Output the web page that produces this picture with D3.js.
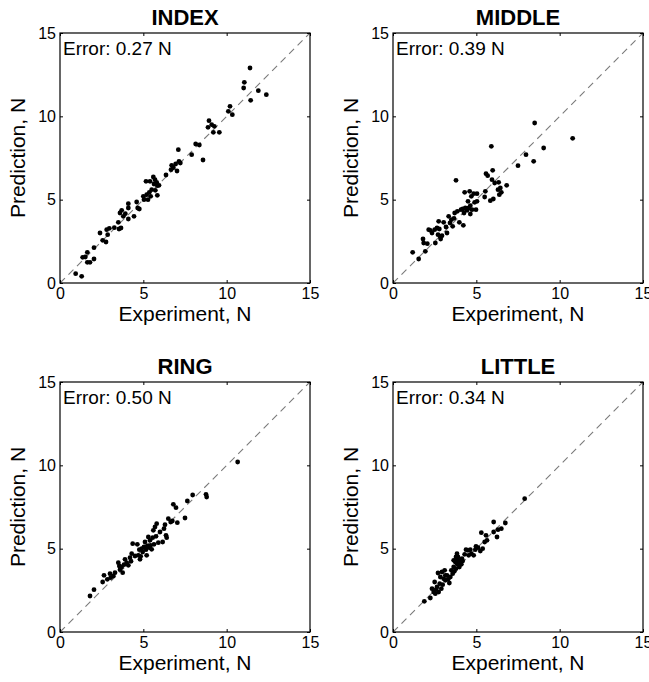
<!DOCTYPE html>
<html>
<head>
<meta charset="utf-8">
<script src="https://cdn.jsdelivr.net/npm/d3@7"></script>
<style>
  body { margin: 0; background: #fff; }
  svg { font-family: "Liberation Sans", Arial, sans-serif; }
</style>
</head>
<body>
<div id="canvas"></div>
<script>
"use strict"

/* data: experiment vs prediction, in N */
let titles = ["INDEX", "MIDDLE", "RING", "LITTLE"];
let errors = ["0.27", "0.39", "0.50", "0.34"];
let tickValues = [0, 5, 10, 15];

let indexExp = [0.94, 1.3, 1.36, 1.52, 1.64, 1.64, 1.8, 2.04, 2.04, 2.4, 2.56, 2.76, 2.8, 2.86, 2.96, 3.26, 3.5, 3.54, 3.66, 3.6,
    3.7, 3.8, 3.92, 4.1, 4.1, 4.1, 4.44, 4.6, 4.66, 4.76, 5.0, 5.04, 5.16, 5.2, 5.28, 5.4, 5.36, 5.44, 5.5, 5.6,
    5.64, 5.7, 5.72, 5.8, 5.84, 5.84, 5.94, 6.36, 6.66, 6.7, 6.8, 6.94, 7.02, 7.1, 7.14, 7.22, 7.9, 8.14, 8.36, 8.58,
    8.88, 8.94, 9.1, 9.2, 9.26, 9.56, 10.1, 10.2, 10.34, 11.02, 11.06, 11.4, 11.44, 11.9, 12.38];
let indexPred = [0.56, 0.4, 1.54, 1.56, 1.84, 1.24, 1.24, 1.44, 2.12, 3.0, 2.56, 2.46, 3.2, 2.9, 3.28, 3.32, 3.64, 3.24, 3.3, 4.2,
    4.36, 4.0, 4.16, 3.84, 4.76, 4.5, 4.0, 4.86, 4.5, 4.44, 5.2, 5.0, 6.1, 5.3, 5.0, 6.1, 5.44, 5.2, 5.6, 6.36,
    5.94, 6.2, 5.56, 6.04, 5.84, 5.26, 5.86, 6.48, 6.8, 7.06, 6.92, 7.14, 6.72, 8.0, 7.3, 7.2, 7.7, 8.34, 8.28, 7.38,
    9.34, 9.74, 9.5, 9.04, 9.4, 9.04, 10.3, 10.6, 10.1, 11.7, 12.04, 12.9, 10.96, 11.54, 11.3];

let middleExp = [1.18, 1.54, 1.8, 1.84, 1.94, 2.06, 2.24, 2.34, 2.5, 2.54, 2.64, 2.7, 2.74, 2.78, 2.84, 2.94, 3.04, 3.18, 3.24, 3.34,
    3.42, 3.5, 3.58, 3.66, 3.7, 3.78, 3.86, 3.98, 4.08, 4.22, 4.26, 4.3, 4.34, 4.44, 4.5, 4.6, 4.64, 4.64, 4.7, 4.74,
    4.84, 4.9, 4.98, 5.04, 5.04, 5.5, 5.54, 5.58, 5.68, 5.84, 5.9, 5.94, 5.98, 6.02, 6.1, 6.3, 6.34, 6.38, 6.44, 6.5,
    6.82, 7.5, 7.98, 8.44, 8.5, 9.04, 10.78, 4.18, 4.54, 2.14, 2.86];
let middlePred = [1.84, 1.44, 2.64, 2.4, 1.9, 2.36, 3.16, 3.0, 3.2, 2.4, 3.3, 2.9, 3.7, 3.24, 2.76, 2.84, 3.64, 3.36, 3.0, 4.0,
    3.6, 3.8, 3.4, 3.88, 4.2, 6.16, 4.3, 3.64, 4.4, 3.46, 4.2, 5.44, 4.5, 4.36, 4.9, 5.5, 4.64, 4.14, 5.2, 4.4,
    5.36, 4.84, 4.4, 4.9, 5.36, 5.16, 5.5, 6.56, 6.44, 4.94, 8.2, 6.2, 6.76, 5.04, 6.0, 5.6, 6.04, 5.3, 5.7, 5.44,
    5.86, 7.04, 7.7, 7.3, 9.6, 8.1, 8.68, 4.44, 4.5, 3.2, 2.64];

let ringExp = [1.8, 2.04, 2.56, 2.64, 2.84, 3.0, 3.04, 3.2, 3.3, 3.5, 3.56, 3.6, 3.76, 3.84, 3.9, 4.0, 4.1, 4.2, 4.26, 4.36,
    4.5, 4.64, 4.7, 4.76, 4.8, 4.84, 4.9, 4.96, 5.04, 5.1, 5.16, 5.24, 5.3, 5.36, 5.4, 5.5, 5.56, 5.6, 5.64, 5.7,
    5.76, 5.8, 5.9, 6.0, 6.16, 6.24, 6.3, 6.36, 6.4, 6.5, 6.64, 6.74, 6.8, 6.96, 7.04, 7.5, 7.64, 7.96, 8.76, 8.8,
    10.66, 5.2, 4.3, 5.44, 3.7];
let ringPred = [2.16, 2.54, 3.0, 3.4, 3.16, 3.5, 3.26, 3.36, 3.56, 4.16, 3.96, 3.74, 3.56, 4.04, 4.36, 4.16, 4.0, 4.46, 4.24, 5.3,
    4.56, 5.26, 4.6, 4.94, 4.36, 4.54, 5.0, 4.8, 5.1, 5.4, 4.94, 5.16, 5.7, 5.06, 5.5, 4.96, 5.66, 6.1, 5.26, 6.3,
    5.74, 6.5, 5.36, 6.0, 5.4, 6.2, 6.44, 5.8, 5.66, 6.8, 6.6, 6.66, 7.66, 7.46, 6.56, 6.84, 7.86, 8.22, 8.26, 8.1,
    10.2, 4.6, 4.7, 5.2, 3.9];

let littleExp = [1.88, 2.24, 2.34, 2.44, 2.5, 2.54, 2.64, 2.7, 2.74, 2.8, 2.84, 2.9, 2.94, 2.98, 3.04, 3.1, 3.14, 3.24, 3.3, 3.38,
    3.44, 3.5, 3.58, 3.64, 3.68, 3.74, 3.78, 3.84, 3.86, 3.9, 3.94, 3.98, 4.04, 4.1, 4.18, 4.3, 4.38, 4.5, 4.54, 4.64,
    4.7, 4.84, 4.94, 4.98, 5.1, 5.24, 5.3, 5.38, 5.5, 5.58, 5.64, 6.04, 6.04, 6.24, 6.3, 6.5, 6.74, 7.9,
    3.78, 3.64, 3.14, 2.58, 4.14, 3.84];
let littlePred = [1.84, 2.04, 2.6, 2.4, 3.0, 2.3, 2.7, 3.54, 2.4, 2.9, 3.3, 2.6, 3.6, 2.84, 3.2, 3.7, 3.1, 3.4, 3.16, 2.94,
    3.3, 3.7, 3.5, 3.9, 3.64, 4.2, 3.8, 4.4, 4.06, 4.5, 4.2, 3.9, 4.3, 4.06, 4.26, 4.66, 4.94, 4.9, 4.6, 4.94,
    4.7, 4.6, 4.94, 5.14, 5.06, 4.86, 5.96, 5.0, 5.4, 5.8, 5.5, 6.0, 6.6, 5.7, 6.14, 6.2, 6.54, 8.0,
    4.5, 4.3, 3.4, 2.54, 4.4, 4.7];

let expSets = [indexExp, middleExp, ringExp, littleExp];
let predSets = [indexPred, middlePred, ringPred, littlePred];

/* layout */
let width = 649, height = 682;
let size = 250;
let lefts = [60, 393, 60, 393];
let tops = [33, 33, 382, 382];

let drawing = d3.select("#canvas")
    .append("svg")
    .attr("width", width)
    .attr("height", height);

let x = d3.scaleLinear().domain([0, 15]).range([0, size]);
let y = d3.scaleLinear().domain([0, 15]).range([size, 0]);

for (let p = 0; p < 4; p++) {
    let g = drawing.append("g")
        .attr("transform", "translate(" + lefts[p] + "," + tops[p] + ")");

    // identity line
    g.append("line")
        .attr("x1", x(0)).attr("y1", y(0))
        .attr("x2", x(15)).attr("y2", y(15))
        .attr("stroke", "#7a7a7a")
        .attr("stroke-width", 1.1)
        .attr("stroke-dasharray", "7,5");

    // points
    g.selectAll("circle")
        .data(expSets[p].map((v, i) => [v, predSets[p][i]]))
        .join("circle")
        .attr("cx", d => x(d[0]))
        .attr("cy", d => y(d[1]))
        .attr("r", 2.4)
        .attr("fill", "black");

    // axes, ticks pointing inward as in matlab
    g.append("g")
        .attr("transform", "translate(0," + size + ")")
        .call(d3.axisBottom(x).tickValues(tickValues).tickSizeInner(-3).tickSizeOuter(0).tickPadding(5));
    g.append("g")
        .call(d3.axisLeft(y).tickValues(tickValues).tickSizeInner(-3).tickSizeOuter(0).tickPadding(4));
    g.append("g")
        .call(d3.axisTop(x).tickValues(tickValues).tickSizeInner(-3).tickSizeOuter(0).tickFormat(""));
    g.append("g")
        .attr("transform", "translate(" + size + ",0)")
        .call(d3.axisRight(y).tickValues(tickValues).tickSizeInner(-3).tickSizeOuter(0).tickFormat(""));

    g.selectAll(".tick text")
        .attr("font-family", "Liberation Sans, Arial, sans-serif")
        .attr("font-size", 16)
        .attr("fill", "black");
    g.selectAll(".domain").attr("stroke", "none");

    // frame
    g.append("rect")
        .attr("width", size)
        .attr("height", size)
        .attr("fill", "none")
        .attr("stroke", "black")
        .attr("stroke-width", 1.2);

    // title
    g.append("text")
        .attr("x", size / 2)
        .attr("y", -8)
        .attr("text-anchor", "middle")
        .attr("font-size", 22)
        .attr("font-weight", "bold")
        .text(titles[p]);

    // error label
    g.append("text")
        .attr("x", 3)
        .attr("y", 22)
        .attr("font-size", 19)
        .text("Error: " + errors[p] + " N");

    // axis titles
    g.append("text")
        .attr("x", size / 2)
        .attr("y", size + 38)
        .attr("text-anchor", "middle")
        .attr("font-size", 21)
        .text("Experiment, N");

    g.append("text")
        .attr("transform", "translate(-35," + (size / 2) + ") rotate(-90)")
        .attr("text-anchor", "middle")
        .attr("font-size", 21)
        .text("Prediction, N");
}
</script>
</body>
</html>
